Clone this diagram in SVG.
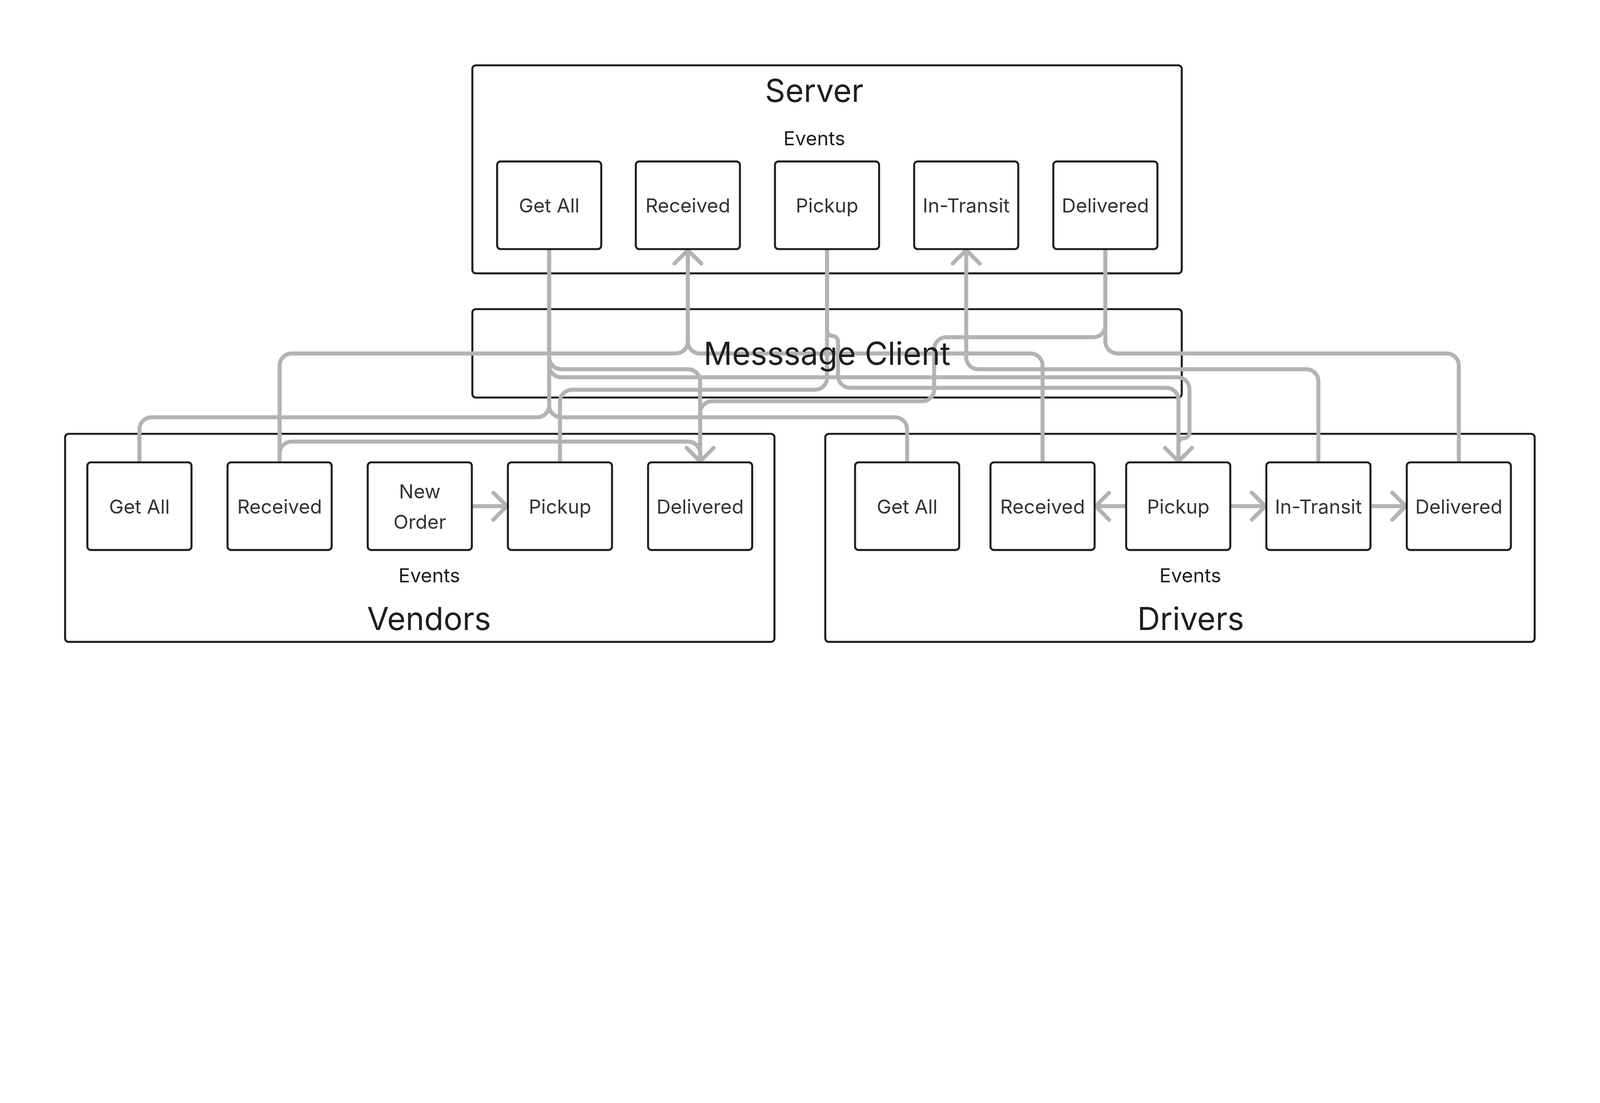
<svg xmlns="http://www.w3.org/2000/svg" width="6392" height="2824" viewBox="0 0 6392 2824">
<defs>
<style>
@media (max-width: 6000px) { svg { width: 100vw; height: 44.18vw; } }
.container{fill:none;stroke:#1e1e1e;stroke-width:8}
.node rect{fill:#ffffff;stroke:#1e1e1e;stroke-width:8}
.node text{font-family:Inter,"Noto Sans","Liberation Sans",sans-serif;font-size:78px;fill:#333333;text-anchor:middle}
.title{font-family:Inter,"Noto Sans","Liberation Sans",sans-serif;font-size:126px;fill:#1e1e1e;text-anchor:middle}
.sub{font-family:Inter,"Noto Sans","Liberation Sans",sans-serif;font-size:78px;fill:#1e1e1e;text-anchor:middle}
.conn path{fill:none;stroke:#b3b3b3;stroke-width:16;stroke-linecap:round;stroke-linejoin:round}
</style>
<marker id="ah" markerUnits="userSpaceOnUse" viewBox="-80 -80 100 160" refX="0" refY="0" markerWidth="100" markerHeight="160" orient="auto" overflow="visible">
<path d="M-54,-54 L0,0 L-54,54" fill="none" stroke="#b3b3b3" stroke-width="16" stroke-linecap="round" stroke-linejoin="round"/>
</marker>
</defs>
<rect x="0" y="0" width="6392" height="2824" fill="#ffffff"/>

<g id="server">
<rect class="container" x="1887" y="261" width="2834" height="831" rx="14"/>
<text class="title" x="3253" y="407">Server</text>
<text class="sub" x="3253" y="581">Events</text>
</g>
<g id="message-client">
<rect class="container" x="1887" y="1235" width="2834" height="353" rx="14"/>
</g>
<g id="vendors">
<rect class="container" x="260" y="1733" width="2834" height="831" rx="14"/>
<text class="sub" x="1715" y="2326">Events</text>
<text class="title" x="1714" y="2517">Vendors</text>
</g>
<g id="drivers">
<rect class="container" x="3297" y="1733" width="2834" height="831" rx="14"/>
<text class="sub" x="4755" y="2326">Events</text>
<text class="title" x="4757" y="2517">Drivers</text>
</g>

<g id="connectors" class="conn">
<path d="M1117,1843 V1460 A48,48 0 0 1 1165,1412 H2700 A48,48 0 0 0 2748,1364 V999" marker-end="url(#ah)"/>
<path d="M4165,1843 V1460 A48,48 0 0 0 4117,1412 H2796 A48,48 0 0 1 2748,1364 V999"/>
<path d="M1117,1843 V1812 A48,48 0 0 1 1165,1764 H2749 A48,48 0 0 1 2797,1812 V1843" marker-end="url(#ah)"/>
<path d="M2194,1000 V1619 A48,48 0 0 1 2146,1667 H605 A48,48 0 0 0 557,1715 V1843"/>
<path d="M2194,1000 V1619 A48,48 0 0 0 2242,1667 H3576 A48,48 0 0 1 3624,1715 V1843"/>
<path d="M2194,1000 V1427 A48,48 0 0 0 2242,1475 H2749 A48,48 0 0 1 2797,1523 V1843"/>
<path d="M2194,1000 V1459 A48,48 0 0 0 2242,1507 H4704 A48,48 0 0 1 4752,1555 V1728 A22,22 0 0 1 4730,1750 A22,22 0 0 0 4708,1772 V1843" marker-end="url(#ah)"/>
<path d="M3304,1000 V1509 A48,48 0 0 1 3256,1557 H2285 A48,48 0 0 0 2237,1605 V1843"/>
<path d="M3304,1000 V1320 A22,22 0 0 0 3326,1342 A22,22 0 0 1 3348,1364 V1501 A48,48 0 0 0 3396,1549 H4660 A48,48 0 0 1 4708,1597 V1843"/>
<path d="M5267,1843 V1523 A48,48 0 0 0 5219,1475 H3908 A48,48 0 0 1 3860,1427 V999" marker-end="url(#ah)"/>
<path d="M4416,1000 V1364 A48,48 0 0 0 4464,1412 H5780 A48,48 0 0 1 5828,1460 V1843"/>
<path d="M4416,1000 V1299 A48,48 0 0 1 4368,1347 H3780 A48,48 0 0 0 3732,1395 V1555 A48,48 0 0 1 3684,1603 H2845 A48,48 0 0 0 2797,1651 V1843"/>
<path d="M1890,2022 H2025" marker-end="url(#ah)"/>
<path d="M4495,2022 H4377" marker-end="url(#ah)"/>
<path d="M4919,2022 H5055" marker-end="url(#ah)"/>
<path d="M5479,2022 H5616" marker-end="url(#ah)"/>
</g>

<g id="server-get-all" class="node"><rect x="1986" y="645" width="416" height="350" rx="14"/><text x="2194" y="849">Get All</text></g>
<g id="server-received" class="node"><rect x="2540" y="645" width="416" height="350" rx="14"/><text x="2748" y="849">Received</text></g>
<g id="server-pickup" class="node"><rect x="3096" y="645" width="416" height="350" rx="14"/><text x="3304" y="849">Pickup</text></g>
<g id="server-in-transit" class="node"><rect x="3652" y="645" width="416" height="350" rx="14"/><text x="3860" y="849">In-Transit</text></g>
<g id="server-delivered" class="node"><rect x="4208" y="645" width="416" height="350" rx="14"/><text x="4416" y="849">Delivered</text></g>

<g id="vendor-get-all" class="node"><rect x="349" y="1847" width="416" height="350" rx="14"/><text x="557" y="2051">Get All</text></g>
<g id="vendor-received" class="node"><rect x="909" y="1847" width="416" height="350" rx="14"/><text x="1117" y="2051">Received</text></g>
<g id="vendor-new-order" class="node"><rect x="1469" y="1847" width="416" height="350" rx="14"/><text x="1677" y="1991">New</text><text x="1677" y="2112">Order</text></g>
<g id="vendor-pickup" class="node"><rect x="2029" y="1847" width="416" height="350" rx="14"/><text x="2237" y="2051">Pickup</text></g>
<g id="vendor-delivered" class="node"><rect x="2589" y="1847" width="416" height="350" rx="14"/><text x="2797" y="2051">Delivered</text></g>

<g id="driver-get-all" class="node"><rect x="3416" y="1847" width="416" height="350" rx="14"/><text x="3624" y="2051">Get All</text></g>
<g id="driver-received" class="node"><rect x="3957" y="1847" width="416" height="350" rx="14"/><text x="4165" y="2051">Received</text></g>
<g id="driver-pickup" class="node"><rect x="4499" y="1847" width="416" height="350" rx="14"/><text x="4707" y="2051">Pickup</text></g>
<g id="driver-in-transit" class="node"><rect x="5059" y="1847" width="416" height="350" rx="14"/><text x="5267" y="2051">In-Transit</text></g>
<g id="driver-delivered" class="node"><rect x="5620" y="1847" width="416" height="350" rx="14"/><text x="5828" y="2051">Delivered</text></g>

<g id="message-client-label">
<text class="title" x="3304" y="1458">Messsage Client</text>
</g>
</svg>
